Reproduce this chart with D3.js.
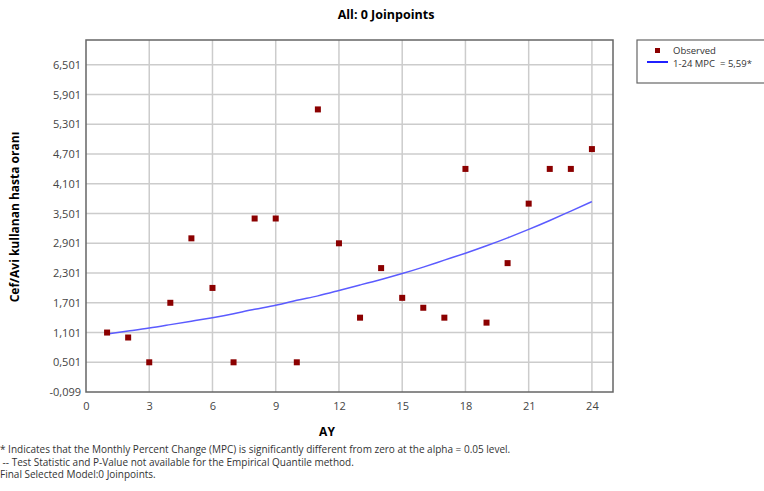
<!DOCTYPE html>
<html>
<head>
<meta charset="utf-8">
<script src="https://cdn.jsdelivr.net/npm/d3@7"></script>
<style>
  body { margin: 0; background: #fff; }
  svg { font-family: "Open Sans", "Noto Sans", sans-serif; }
</style>
</head>
<body>
<svg id="chart" width="764" height="491"></svg>
<script>
// months (AY) and observed rates
const months = [1, 2, 3, 4, 5, 6, 7, 8, 9, 10, 11, 12, 13, 14, 15, 16, 17, 18, 19, 20, 21, 22, 23, 24];
const observed = [1.1, 1.0, 0.5, 1.7, 3.0, 2.0, 0.5, 3.4, 3.4, 0.5, 5.6, 2.9, 1.4, 2.4, 1.8, 1.6, 1.4, 4.4, 1.3, 2.5, 3.7, 4.4, 4.4, 4.8];
// fitted 1-24 segment
const fitted = [1.07, 1.13, 1.19, 1.26, 1.33, 1.40, 1.48, 1.57, 1.65, 1.75, 1.84, 1.95,
  2.06, 2.17, 2.29, 2.42, 2.56, 2.70, 2.85, 3.01, 3.18, 3.36, 3.55, 3.74];
const xTicks = [0, 3, 6, 9, 12, 15, 18, 21, 24];
const yTicks = [-0.099, 0.501, 1.101, 1.701, 2.301, 2.901, 3.501, 4.101, 4.701, 5.301, 5.901, 6.501];
const footnotes = [
  "* Indicates that the Monthly Percent Change (MPC) is significantly different from zero at the alpha = 0.05 level.",
  " -- Test Statistic and P-Value not available for the Empirical Quantile method.",
  "Final Selected Model:0 Joinpoints."
];

const margin = { left: 86, top: 40, right: 151, bottom: 99 };
const width = 764 - margin.left - margin.right;
const height = 491 - margin.top - margin.bottom;

const svg = d3.select("#chart");
const chart = svg.append("g").attr("transform", `translate(${margin.left},${margin.top})`);

const xScale = d3.scaleLinear().domain([0, 25]).range([0, width]);
const yScale = d3.scaleLinear().domain([-0.099, 7.0]).range([height, 0]);

const fmt = d => d3.format(".3f")(d).replace(".", ",").replace("\u2212", "-");

// grid
chart.append("g").selectAll("line").data(xTicks.filter(d => d > 0)).join("line")
  .attr("x1", d => xScale(d)).attr("x2", d => xScale(d))
  .attr("y1", 0).attr("y2", height)
  .style("stroke", "#cccccc").style("stroke-width", 1.5);
chart.append("g").selectAll("line").data(yTicks.filter(d => d > 0)).join("line")
  .attr("x1", 0).attr("x2", width)
  .attr("y1", d => yScale(d)).attr("y2", d => yScale(d))
  .style("stroke", "#cccccc").style("stroke-width", 1.5);

// axes
const xAxis = chart.append("g").attr("transform", `translate(0,${height})`)
  .call(d3.axisBottom(xScale).tickValues(xTicks).tickSize(0).tickPadding(10));
const yAxis = chart.append("g")
  .call(d3.axisLeft(yScale).tickValues(yTicks).tickFormat(fmt).tickSize(0).tickPadding(5));
[xAxis, yAxis].forEach(a => {
  a.select(".domain").remove();
  a.selectAll("text").style("font-size", "11px").style("fill", "#444").style("font-family", "\"Open Sans\", sans-serif");
});

// frame
chart.append("rect").attr("width", width).attr("height", height)
  .style("fill", "none").style("stroke", "#666").style("stroke-width", 1.5);

// fitted curve
chart.append("path")
  .datum(months.map((m, i) => [m, fitted[i]]))
  .attr("d", d3.line().x(d => xScale(d[0])).y(d => yScale(d[1])).curve(d3.curveNatural))
  .style("fill", "none").style("stroke", "#5b5bff").style("stroke-width", 1.5);

// observed points
chart.append("g").selectAll("rect").data(months.map((m, i) => [m, observed[i]])).join("rect")
  .attr("x", d => xScale(d[0]) - 3).attr("y", d => yScale(d[1]) - 3)
  .attr("width", 6).attr("height", 6)
  .style("fill", "#8b0000");

// title and axis labels
svg.append("text").attr("x", 386).attr("y", 19).attr("text-anchor", "middle")
  .style("font-weight", "bold").style("font-size", "12.5px").text("All: 0 Joinpoints");
svg.append("text").attr("x", 327).attr("y", 436).attr("text-anchor", "middle")
  .style("font-weight", "bold").style("font-size", "12px").text("AY");
svg.append("text").attr("transform", `translate(19,${margin.top + height / 2 + 1}) rotate(-90)`)
  .attr("text-anchor", "middle")
  .style("font-weight", "bold").style("font-size", "12px").text("Cef/Avi kullanan hasta oranı");

// legend
const legend = svg.append("g").attr("transform", "translate(637,40)");
legend.append("rect").attr("width", 140).attr("height", 43)
  .style("fill", "#fff").style("stroke", "#666").style("stroke-width", 1.2);
legend.append("rect").attr("x", 18).attr("y", 8).attr("width", 5).attr("height", 5).style("fill", "#8b0000");
legend.append("line").attr("x1", 10).attr("x2", 31).attr("y1", 22).attr("y2", 22)
  .style("stroke", "#2020ff").style("stroke-width", 2);
legend.append("text").attr("x", 36).attr("y", 14).style("font-size", "9.5px").style("fill", "#333").text("Observed");
legend.append("text").attr("x", 36).attr("y", 27).style("font-size", "9.5px").style("fill", "#333")
  .style("white-space", "pre").text("1-24 MPC  = 5,59*");

// footnotes
svg.append("g").selectAll("text").data(footnotes).join("text")
  .attr("x", 0).attr("y", (d, i) => 453 + i * 12.5)
  .style("font-size", "10px").style("fill", "#333").style("white-space", "pre")
  .text(d => d);
</script>
</body>
</html>
